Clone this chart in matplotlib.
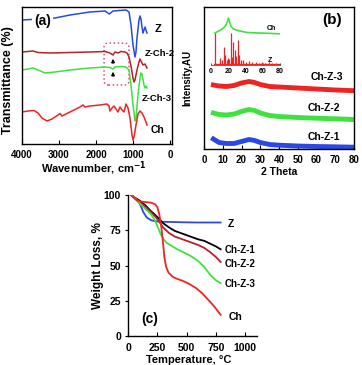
import numpy as np
import matplotlib
matplotlib.use('Agg')
import matplotlib.pyplot as plt
from matplotlib.patches import FancyBboxPatch

plt.rcParams['font.family'] = ['Liberation Sans', 'DejaVu Sans']
plt.rcParams['font.weight'] = 'bold'
plt.rcParams['axes.linewidth'] = 1.0

# ---------------- (a) FTIR ----------------
wn_z = [4000, 3514, 3108, 2703, 2162, 1757, 1640, 1541, 1189, 1108, 1054, 1000, 946,
        919, 892, 838, 811, 784, 757, 730, 703, 676, 649, 622]
tr_z = [124, 125, 126, 129, 132, 133, 130, 133, 134, 132, 119, 99, 87,
        92, 106, 124, 128, 125, 117, 111, 114, 117, 114, 111]

wn_zch2 = [4000, 3838, 3703, 3568, 3243, 2703, 2162, 1757, 1622, 1541, 1486, 1405, 1324,
           1216, 1162, 1108, 1054, 1000, 973, 946, 892, 838, 811, 784, 730, 676, 622]
tr_zch2 = [92, 92.5, 93, 91.5, 91, 91.5, 92, 92.5, 91, 89, 92, 91, 92.5,
           92, 91, 87, 78, 66, 62, 64, 74, 82, 85, 83, 79, 80, 76]

wn_zch3 = [4000, 3838, 3703, 3568, 3378, 3108, 2703, 2162, 1757, 1622, 1541, 1486, 1324,
           1189, 1108, 1054, 1000, 946, 919, 865, 811, 784, 757, 703, 676, 649, 622]
tr_zch3 = [74, 75, 76, 74, 71, 72, 74, 76, 77, 76.5, 75, 77, 77.5,
           77, 74, 59, 39, 23, 26, 49, 66, 71, 70, 59, 56, 58, 56]

wn_ch = [4000, 3838, 3676, 3568, 3460, 3324, 3189, 3027, 2973, 2919, 2865, 2703, 2432,
         2351, 2297, 2162, 1892, 1703, 1649, 1622, 1568, 1514, 1459, 1405, 1351, 1297,
         1243, 1189, 1135, 1081, 1027, 1000, 973, 919, 865, 811, 757, 703, 649, 622]
tr_ch = [32, 33, 33.5, 31, 26, 23, 25, 29, 30.5, 28, 29, 32, 37,
         39, 37, 38, 39, 40, 38, 33, 36, 38, 35, 32, 37, 34,
         32, 40, 36, 26, 9, 4, 7, 19, 30, 33, 31, 27, 22, 19]

# ---------------- (b) XRD ----------------
tt_main = [5, 8, 12, 16, 20, 24, 27, 30, 35, 40, 50, 60, 70, 80]
int_chz1 = [10, 6.5, 5.5, 5.5, 7.5, 9.5, 8.5, 6.5, 4.5, 3.8, 3, 2.5, 2.2, 1.8]
int_chz2 = [36, 34.5, 34, 35, 37.5, 39.5, 38.5, 36, 33.5, 32.5, 31.5, 30.8, 30.2, 29.5]
int_chz3 = [64, 63, 62.5, 63.5, 66, 67.5, 66.5, 64.5, 62.5, 62, 61, 60, 59, 58.3]

tt_ch_ins = [4.5, 8, 11.5, 15, 17.5, 19.2, 20.2, 21.5, 23.2, 26, 31, 42, 55, 66, 80]
int_ch_ins = [32, 33.5, 35, 37.5, 40, 44, 47, 43, 38.5, 36, 34.5, 32.5, 32, 31.7, 31.2]

tt_z_peaks = [5.0, 10.8, 12.5, 14.7, 16.6, 18.5, 19.3, 21.2, 23.2, 24.5, 25.9, 27.8,
              29.5, 31.0, 32.8, 34.5, 36.7, 40.5, 44.4, 48, 52.2, 56, 59, 63, 67, 71, 75]
int_z_peaks = [32, 7, 5, 18, 10, 5, 7, 6, 32, 8, 23, 15,
               9, 25, 10, 5, 5, 3.5, 4, 3, 3.5, 2.5, 3, 2.5, 3, 2.5, 2.5]

# ---------------- (c) TGA ----------------
t_z = [25, 60, 100, 130, 160, 200, 250, 300, 400, 500, 600, 700, 790]
w_z = [100, 97.5, 94, 88, 84, 82, 81.2, 81, 80.8, 80.6, 80.5, 80.5, 80.5]
t_chz1 = [25, 60, 100, 150, 190, 230, 260, 300, 350, 400, 450, 500, 550, 600, 650, 700, 750, 790]
w_chz1 = [100, 98, 96, 92.5, 89, 86, 83.5, 80, 77, 74.5, 73, 71.5, 70, 68.5, 67.5, 65.5, 63.5, 61.5]
t_chz2 = [25, 60, 100, 150, 200, 240, 270, 300, 350, 400, 450, 500, 550, 600, 650, 700, 750, 790]
w_chz2 = [100, 98, 95, 91.5, 87.5, 84, 80.5, 77, 73, 70.5, 69, 67.5, 66, 64.5, 62.5, 59.5, 56, 52.5]
t_chz3 = [25, 60, 100, 150, 200, 230, 260, 280, 300, 330, 370, 420, 470, 530, 600, 650, 700, 750, 790]
w_chz3 = [100, 97.5, 94, 90, 86, 82, 76, 72, 69, 66, 64, 61.5, 59.5, 57, 53, 49, 43.5, 39.5, 37.5]
t_ch = [25, 50, 80, 100, 150, 200, 230, 250, 265, 280, 290, 300, 310, 325, 345, 380, 420,
        470, 520, 580, 630, 680, 730, 790]
w_ch = [100, 98, 96, 95.5, 95, 94.5, 93.5, 91.5, 87, 80, 73, 65, 56, 49, 45, 42, 40.5,
        39, 37, 34, 30.5, 26, 21.5, 15]

c_blue = '#2a48e6'
c_dred = '#b8202a'
c_green = '#3ee23e'
c_red = '#ee2424'

W, H = 362, 365
fig = plt.figure(figsize=(W / 100, H / 100), dpi=100, facecolor='white')

def box(l, t, r, b):
    return [l / W, 1 - b / H, (r - l) / W, (b - t) / H]

##############################################################################
ax = fig.add_axes(box(22, 7, 172, 144))
ax.plot(wn_z, tr_z, color=c_blue, lw=1.1)
ax.plot(wn_zch2, tr_zch2, color=c_dred, lw=1.1)
ax.plot(wn_zch3, tr_zch3, color=c_green, lw=1.1)
ax.plot(wn_ch, tr_ch, color=c_red, lw=1.1)
ax.set_xlim(4000, -54)
ax.set_ylim(0, 137)
ax.set_xticks([4000, 3000, 2000, 1000, 0])
ax.set_yticks([])
ax.tick_params(axis='x', direction='in', length=3, pad=4, labelsize=7)
ax.text(0.08, 0.87, '(a)', transform=ax.transAxes, fontsize=10, fontweight='bold',
        bbox=dict(facecolor='white', edgecolor='none', pad=1.5))
ax.add_patch(FancyBboxPatch((0.547, 0.431), 0.166, 0.306, transform=ax.transAxes,
                            boxstyle='round,pad=0,rounding_size=0.03', fc='none',
                            ec='#e0506a', ls=':', lw=1.1))
ax.annotate('', xy=(1540, 88), xytext=(1540, 78),
            arrowprops=dict(arrowstyle='-|>', color='k', lw=0.8, mutation_scale=5))
ax.annotate('', xy=(1540, 75), xytext=(1540, 65),
            arrowprops=dict(arrowstyle='-|>', color='k', lw=0.8, mutation_scale=5))
ax.text(0.91, 0.84, 'Z', transform=ax.transAxes, fontsize=8, ha='center', va='center')
ax.text(0.82, 0.66, 'Z-Ch-2', transform=ax.transAxes, fontsize=6.8, ha='left', va='center')
ax.text(0.80, 0.335, 'Z-Ch-3', transform=ax.transAxes, fontsize=6.8, ha='left', va='center')
ax.text(0.86, 0.10, 'Ch', transform=ax.transAxes, fontsize=7.5, ha='left', va='center')
fig.text(8 / W, 1 - 80 / H, 'Transmittance (%)', rotation=90, fontsize=9,
         ha='center', va='center')
fig.text(94 / W, 1 - 159 / H, 'Wavenumber, cm$^{\\mathbf{-1}}$', fontsize=8,
         ha='center', va='top')

##############################################################################
bx = fig.add_axes(box(204, 7, 354, 149))
bx.plot(tt_main, int_chz1, color=c_blue, lw=3.5, solid_joinstyle='round')
bx.plot(tt_main, int_chz2, color=c_green, lw=3.5, solid_joinstyle='round')
bx.plot(tt_main, int_chz3, color=c_red, lw=3.5, solid_joinstyle='round')
bx.set_xlim(0, 80)
bx.set_ylim(0, 142)
bx.set_xticks(np.arange(0, 81, 10))
bx.set_yticks([])
bx.tick_params(axis='x', direction='in', length=3, pad=4, labelsize=7)
bx.text(0.853, 0.905, '(b)', transform=bx.transAxes, fontsize=11, ha='center', va='center')
bx.text(0.82, 0.505, 'Ch-Z-3', transform=bx.transAxes, fontsize=7.5, ha='center', va='center')
bx.text(0.80, 0.29, 'Ch-Z-2', transform=bx.transAxes, fontsize=7.5, ha='center', va='center')
bx.text(0.80, 0.085, 'Ch-Z-1', transform=bx.transAxes, fontsize=7.5, ha='center', va='center')
fig.text(187 / W, 1 - 78 / H, 'Intensity,AU', rotation=90, fontsize=7,
         ha='center', va='center')
fig.text(279 / W, 1 - 172 / H, '2 Theta', fontsize=7.5, ha='center', va='center')

ins = fig.add_axes(box(211, 15, 280, 65))
ins.vlines(tt_z_peaks, 0, int_z_peaks, color=c_red, lw=0.9)
ins.plot([4, 80], [0.8, 0.8], color=c_red, lw=1.0)
ins.plot(tt_ch_ins, int_ch_ins, color=c_green, lw=1.2)
ins.set_xlim(0, 80)
ins.set_ylim(0, 50)
ins.set_xticks([0, 20, 40, 60, 80])
ins.set_yticks([])
ins.patch.set_alpha(0)
for s in ['top', 'right', 'left']:
    ins.spines[s].set_visible(False)
ins.spines['bottom'].set_linewidth(0.6)
ins.spines['bottom'].set_color('#555555')
ins.tick_params(axis='x', direction='in', length=1.5, pad=2, labelsize=5, width=0.5)
ins.text(0.88, 0.72, 'Ch', transform=ins.transAxes, fontsize=5, ha='center', va='center')
ins.text(0.855, 0.09, 'Z', transform=ins.transAxes, fontsize=5, ha='center', va='center')

##############################################################################
cx = fig.add_axes(box(128, 195, 257, 336))
cx.plot(t_z, w_z, color=c_blue, lw=1.3)
cx.plot(t_chz1, w_chz1, color='black', lw=1.3)
cx.plot(t_chz2, w_chz2, color=c_dred, lw=1.3)
cx.plot(t_chz3, w_chz3, color=c_green, lw=1.3)
cx.plot(t_ch, w_ch, color=c_red, lw=1.3)
cx.set_xlim(0, 1100)
cx.set_ylim(0, 100)
cx.set_xticks([0, 250, 500, 750, 1000])
cx.set_yticks([0, 25, 50, 75, 100])
cx.spines['top'].set_visible(False)
cx.spines['right'].set_visible(False)
cx.tick_params(axis='x', direction='in', length=3, pad=5, labelsize=7.5)
cx.tick_params(axis='y', direction='out', length=2, pad=3, labelsize=7.5)
cx.text(0.10, 0.12, '(c)', transform=cx.transAxes, fontsize=10, ha='left', va='center')
cx.text(0.80, 0.795, 'Z', transform=cx.transAxes, fontsize=7.5, ha='center', va='center')
cx.text(0.75, 0.61, 'Ch-Z-1', transform=cx.transAxes, fontsize=7, ha='left', va='center')
cx.text(0.75, 0.51, 'Ch-Z-2', transform=cx.transAxes, fontsize=7, ha='left', va='center')
cx.text(0.75, 0.37, 'Ch-Z-3', transform=cx.transAxes, fontsize=7, ha='left', va='center')
cx.text(0.78, 0.135, 'Ch', transform=cx.transAxes, fontsize=7.5, ha='left', va='center')
fig.text(98 / W, 1 - 266 / H, 'Weight Loss, %', rotation=90, fontsize=8.5,
         ha='center', va='center')
fig.text(189 / W, 1 - 360 / H, 'Temperature, \u00b0C', fontsize=8,
         ha='center', va='center')

plt.savefig('out.png', dpi=100, facecolor='white')
